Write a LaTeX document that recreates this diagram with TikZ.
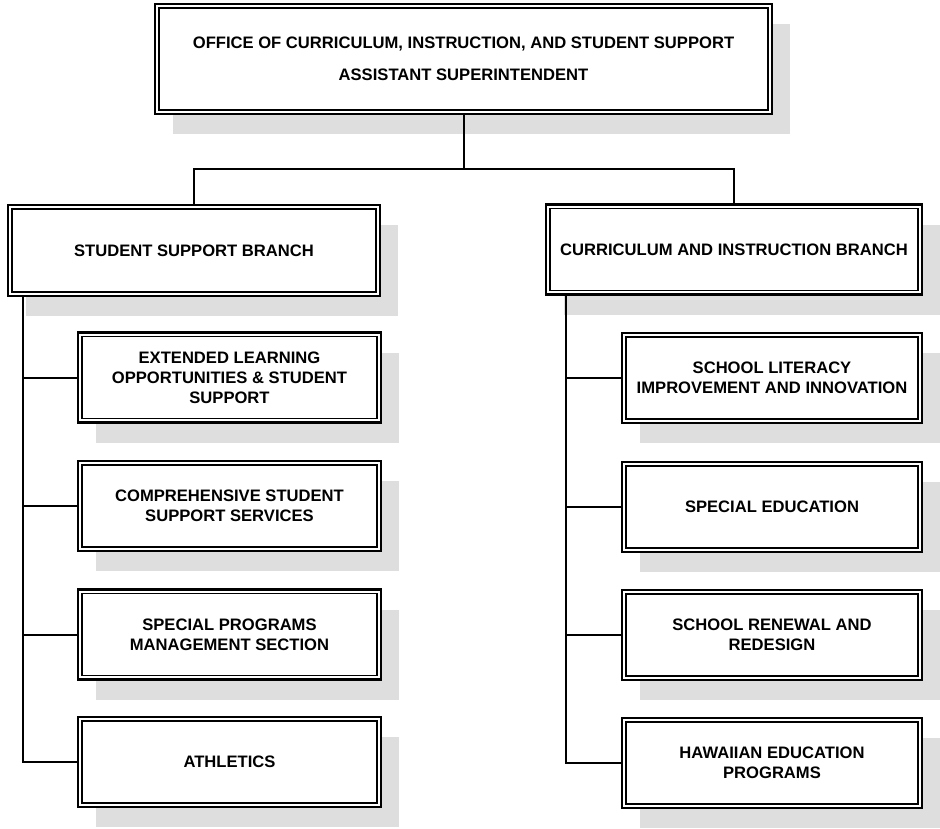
\documentclass[tikz,border=0pt]{standalone}
\usepackage{fontspec}
\setmainfont{Liberation Sans}
\usetikzlibrary{backgrounds}
\tikzset{
  orgbox/.style={draw=black, line width=2.6pt, fill=white, inner sep=0pt, outer sep=0pt,
    align=center, font=\bfseries\fontsize{16.6}{20}\selectfont},
  subbox/.style={orgbox, minimum width=300pt, minimum height=90pt},
  innerline/.style={draw=black, line width=1.1pt},
  shadowfill/.style={fill=black!13},
  link/.style={draw=black, line width=2pt}
}
\begin{document}
\begin{tikzpicture}[x=1pt, y=-1pt]
\useasboundingbox (0,0) rectangle (940,828);

% boxes
\node[orgbox, minimum width=617pt, minimum height=110pt] (top) at (463.5,59)
  {OFFICE OF CURRICULUM, INSTRUCTION, AND STUDENT SUPPORT\\[12pt] ASSISTANT SUPERINTENDENT};
\node[orgbox, minimum width=372pt, minimum height=91pt] (ssb) at (194,250.5) {STUDENT SUPPORT BRANCH};
\node[orgbox, minimum width=376pt, minimum height=90pt] (cib) at (734,249.5) {CURRICULUM AND INSTRUCTION BRANCH};

\node[subbox, minimum width=303pt] (ext) at (229.5,377.5) {EXTENDED LEARNING\\ OPPORTUNITIES \& STUDENT\\ SUPPORT};
\node[subbox, minimum width=303pt] (css) at (229.5,506) {COMPREHENSIVE STUDENT\\ SUPPORT SERVICES};
\node[subbox, minimum width=303pt] (spm) at (229.5,634.5) {SPECIAL PROGRAMS\\ MANAGEMENT SECTION};
\node[subbox, minimum width=303pt] (ath) at (229.5,762) {ATHLETICS};

\node[subbox] (sli) at (772,378) {SCHOOL LITERACY\\ IMPROVEMENT AND INNOVATION};
\node[subbox] (sed) at (772,507) {SPECIAL EDUCATION};
\node[subbox] (srr) at (772,635) {SCHOOL RENEWAL AND\\ REDESIGN};
\node[subbox] (hep) at (772,763) {HAWAIIAN EDUCATION\\ PROGRAMS};

% inner border lines and shadows
\foreach \n in {top,ssb,cib,ext,css,spm,ath,sli,sed,srr,hep}{
  \draw[innerline] ([shift={(4,4)}]\n.north west) rectangle ([shift={(-4,-4)}]\n.south east);
}
\begin{pgfonlayer}{background}
  \fill[white] (0,0) rectangle (940,828);
  \foreach \n in {top,ssb,cib,ext,css,spm,ath,sli,sed,srr,hep}{
    \fill[shadowfill] ([shift={(18,20)}]\n.north west) rectangle ([shift={(18,20)}]\n.south east);
  }
\end{pgfonlayer}

% connectors
\coordinate (j) at (463.5,169);
\coordinate (lsp) at (23,0);
\coordinate (rsp) at (566,0);
\draw[link] (top.south) -- (j);
\draw[link] (ssb.north) -- (ssb.north |- j) -- (cib.north |- j) -- (cib.north);

\draw[link] (ssb.south -| lsp) -- (ath.west -| lsp) -- (ath.west);
\foreach \n in {ext,css,spm}{
  \draw[link] (\n.west -| lsp) -- (\n.west);
}
\draw[link] (cib.south -| rsp) -- (hep.west -| rsp) -- (hep.west);
\foreach \n in {sli,sed,srr}{
  \draw[link] (\n.west -| rsp) -- (\n.west);
}
\end{tikzpicture}
\end{document}
